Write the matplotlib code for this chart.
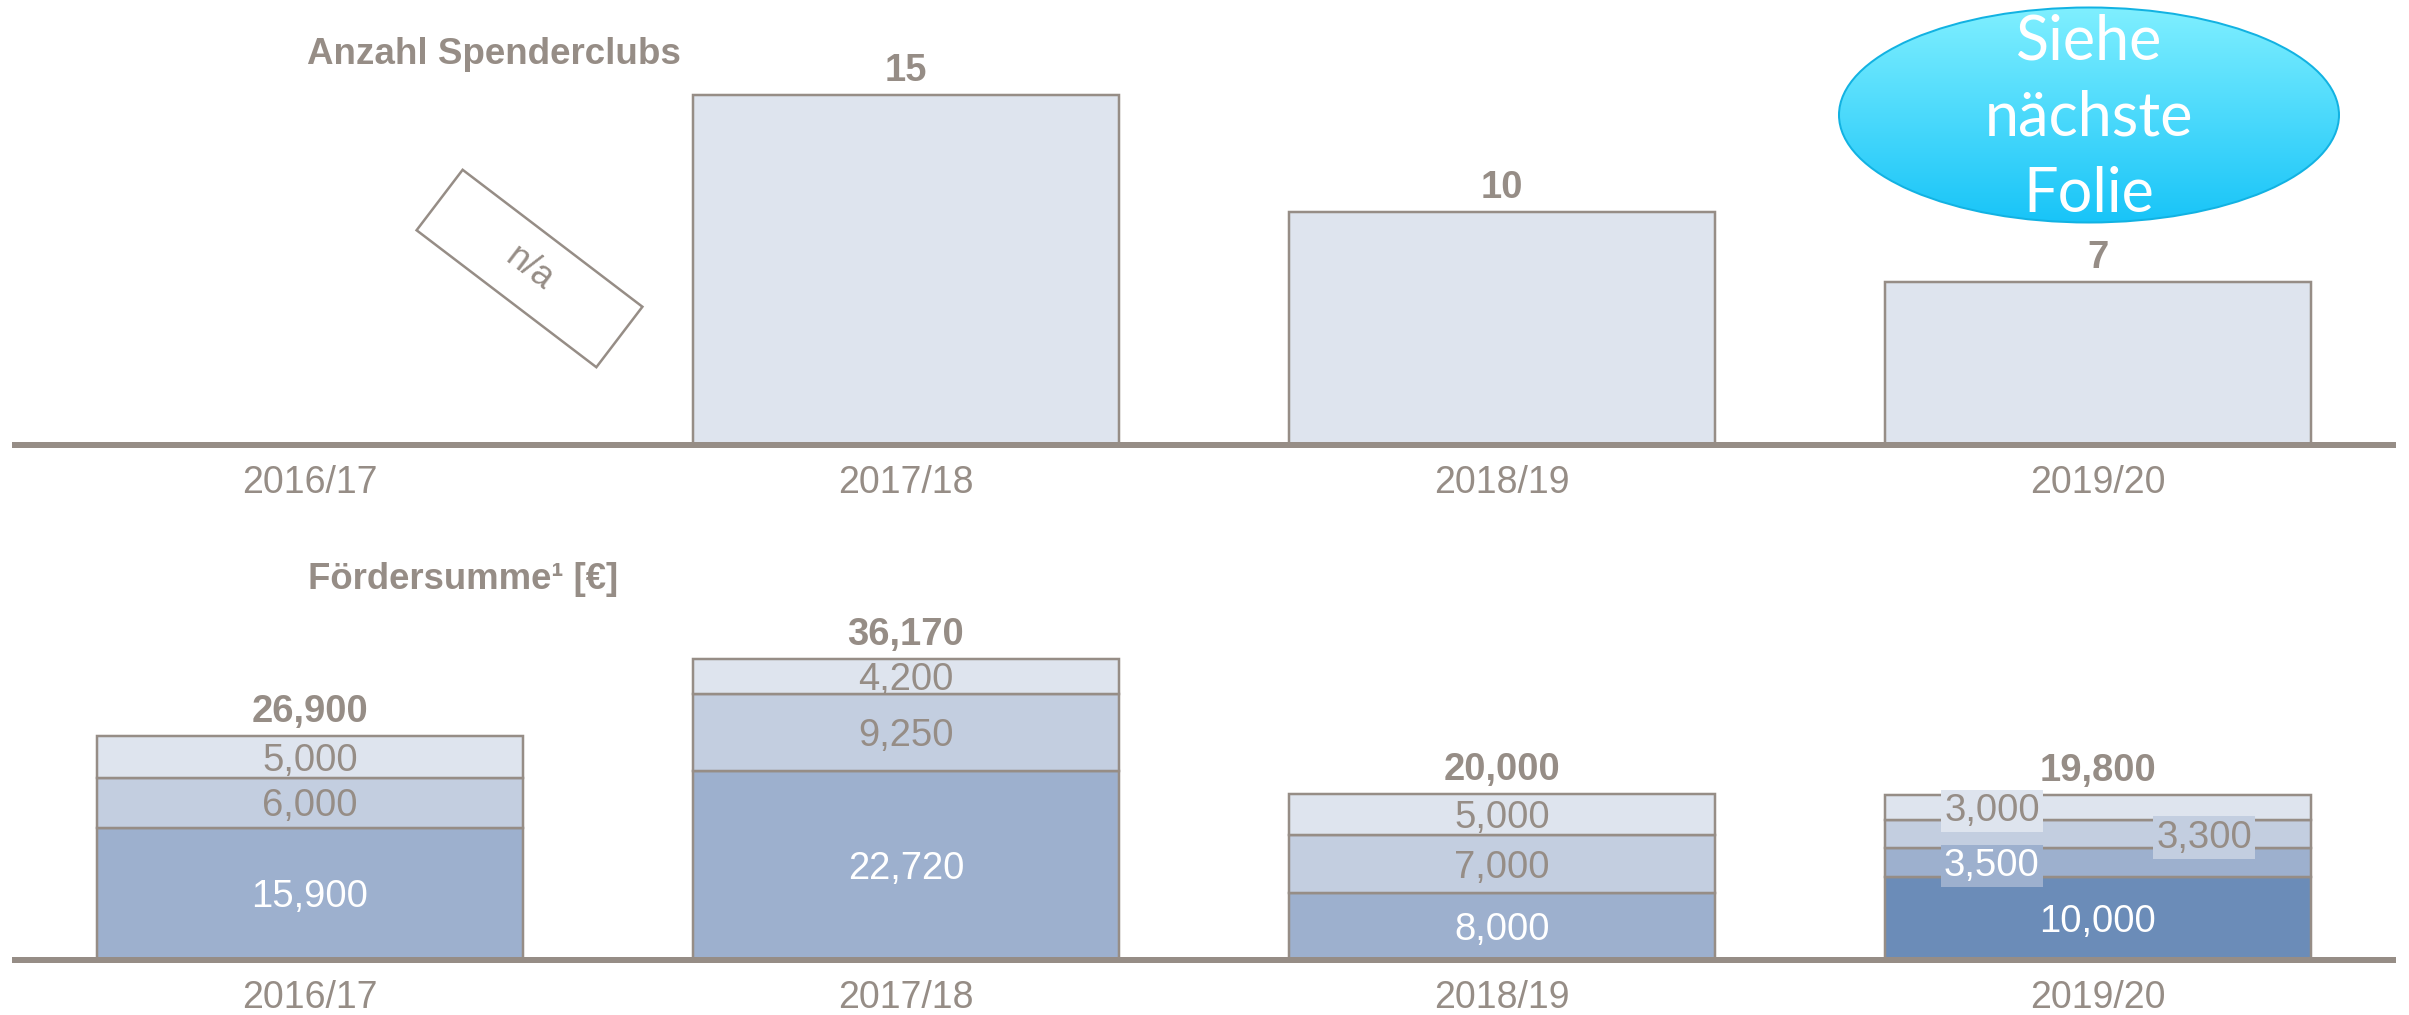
import numpy as np
import matplotlib
matplotlib.use("Agg")
import matplotlib.pyplot as plt
from matplotlib.patches import Ellipse, Polygon
from matplotlib.colors import LinearSegmentedColormap

# ---------------- data ----------------
years = ["2016/17", "2017/18", "2018/19", "2019/20"]
clubs = [None, 15, 10, 7]              # Anzahl Spenderclubs (n/a for 2016/17)
seg_darkest = [0, 0, 0, 10000]         # bottom segment (only 2019/20)
seg_dark = [15900, 22720, 8000, 3500]
seg_mid = [6000, 9250, 7000, 3300]
seg_light = [5000, 4200, 5000, 3000]

# ---------------- style ----------------
W, H = 2409, 1015
GRAY = "#968D86"
C_LIGHT, C_MID, C_DARK, C_DARKEST = "#DEE4EE", "#C3CEE0", "#9DB0CE", "#6B8CB8"
FONT = ["Liberation Sans", "DejaVu Sans"]
plt.rcParams["font.family"] = FONT
PX = 0.72  # points per pixel at dpi 100

fig = plt.figure(figsize=(W / 100, H / 100), dpi=100)

x = np.arange(len(years))
bw = 0.715
ax_left, ax_w = 12 / W, 2384 / W

def style_axes(ax):
    for s in ["top", "left", "right"]:
        ax.spines[s].set_visible(False)
    ax.spines["bottom"].set_color(GRAY)
    ax.spines["bottom"].set_linewidth(6 * PX)
    ax.spines["bottom"].set_capstyle("butt")
    ax.set_yticks([])
    ax.set_xlim(-0.5, 3.5)
    ax.set_xticks(x, labels=years)
    ax.tick_params(axis="x", length=0, pad=14.5, labelsize=27, labelcolor=GRAY)
    ax.patch.set_visible(False)

# ---------------- top panel ----------------
top_base = 445
ax1 = fig.add_axes([ax_left, 1 - top_base / H, ax_w, top_base / H])
style_axes(ax1)
ax1.set_ylim(0, top_base / 23.33)
for i, v in enumerate(clubs):
    if v is None:
        continue
    ax1.bar(x[i], v, width=bw, color=C_LIGHT, edgecolor=GRAY, linewidth=2.5 * PX)
    ax1.annotate(f"{v}", (x[i], v), xytext=(0, 14 * PX), textcoords="offset points",
                 ha="center", va="baseline", fontsize=27.5, fontweight="bold", color=GRAY)

# ---------------- bottom panel ----------------
bot_base = 960
ax2 = fig.add_axes([ax_left, 1 - bot_base / H, ax_w, 360 / H])
style_axes(ax2)
ax2.set_ylim(0, 360 / 0.00832)

bottom = np.zeros(len(years))
layers = [(seg_darkest, C_DARKEST, "white"), (seg_dark, C_DARK, "white"),
          (seg_mid, C_MID, GRAY), (seg_light, C_LIGHT, GRAY)]
label_dx = {(3, 1): -0.178, (3, 2): 0.178, (3, 3): -0.178}
boxed = {(3, 1), (3, 2), (3, 3)}
for li, (vals, col, tcol) in enumerate(layers):
    vals = np.array(vals, dtype=float)
    mask = vals > 0
    ax2.bar(x[mask], vals[mask], bottom=bottom[mask], width=bw, color=col,
            edgecolor=GRAY, linewidth=2.5 * PX)
    for i in np.where(mask)[0]:
        yc = bottom[i] + vals[i] / 2
        kw = {}
        if (i, li) in boxed:
            kw["bbox"] = dict(boxstyle="square,pad=0.08", fc=col, ec="none")
        ax2.annotate(f"{int(vals[i]):,}", (x[i] + label_dx.get((i, li), 0), yc),
                     xytext=(0, -13.6 * PX), textcoords="offset points",
                     ha="center", va="baseline", fontsize=27.5, color=tcol, zorder=4, **kw)
    bottom = bottom + vals

for i, tot in enumerate(bottom):
    ax2.annotate(f"{int(tot):,}", (x[i], tot), xytext=(0, 14 * PX), textcoords="offset points",
                 ha="center", va="baseline", fontsize=27.5, fontweight="bold", color=GRAY)

# ---------------- overlay (titles, n/a box, callout) ----------------
ov = fig.add_axes([0, 0, 1, 1])
ov.set_xlim(0, W)
ov.set_ylim(H, 0)
ov.axis("off")
ov.patch.set_visible(False)

ov.text(307, 64, "Anzahl Spenderclubs", fontsize=26.5, fontweight="bold", color=GRAY,
        ha="left", va="baseline")
ov.text(308, 589, "Fördersumme¹ [€]", fontsize=26.3, fontweight="bold", color=GRAY,
        ha="left", va="baseline")

# n/a rotated box
cx, cy, L, S, ang = 529.5, 268.5, 226, 76, np.deg2rad(37.3)
u = np.array([np.cos(ang), np.sin(ang)])
v = np.array([-np.sin(ang), np.cos(ang)])
c = np.array([cx, cy])
corners = [c - L/2*u - S/2*v, c + L/2*u - S/2*v, c + L/2*u + S/2*v, c - L/2*u + S/2*v]
ov.add_patch(Polygon(corners, closed=True, fc="white", ec=GRAY, lw=2.5 * PX))
ov.text(cx, cy, "n/a", rotation=-37.3, rotation_mode="anchor", ha="center", va="center",
        fontsize=26, color=GRAY)

# callout ellipse with vertical gradient
ex, ey, ew, eh = 2089, 115, 500, 215
ell = Ellipse((ex, ey), ew, eh, fc="none", ec="#12B2E2", lw=2 * PX, zorder=5)
ov.add_patch(ell)
cmap = LinearSegmentedColormap.from_list("cy", ["#7FEFFF", "#18C4F8"])
grad = np.linspace(0, 1, 256).reshape(-1, 1)
im = ov.imshow(grad, cmap=cmap, extent=(ex - ew/2, ex + ew/2, ey + eh/2, ey - eh/2),
               origin="upper", aspect="auto", zorder=4)
im.set_clip_path(ell)
ov.set_xlim(0, W)
ov.set_ylim(H, 0)
ov.text(ex, ey + 3, "Siehe\nnächste\nFolie", ha="center", va="center", fontsize=44,
        family=["Lato", "DejaVu Sans"], color="white", linespacing=1.42, zorder=6)

fig.savefig("out.png", dpi=100)
